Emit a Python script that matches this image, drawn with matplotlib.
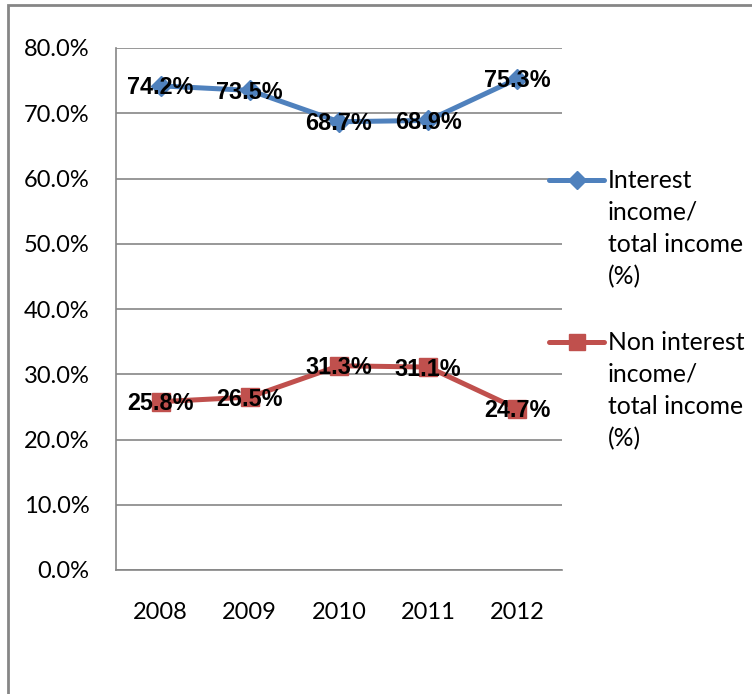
import matplotlib
matplotlib.use('Agg')
from matplotlib import pyplot as plt
from matplotlib.lines import Line2D
from matplotlib.patches import Rectangle
from matplotlib.ticker import FuncFormatter

years = ['2008', '2009', '2010', '2011', '2012']
interest_share = [74.2, 73.5, 68.7, 68.9, 75.3]
non_interest_share = [25.8, 26.5, 31.3, 31.1, 24.7]
series_names = [
    ['Interest', 'income/', 'total income', '(%)'],
    ['Non interest', 'income/', 'total income', '(%)'],
]

BLUE = '#4F81BD'
RED = '#C0504D'
GRID = '#868686'
FONT = 'Lato'
W, H = 752, 694


def px(x, y):
    '''
    Convert pixel position (from top-left) to figure fraction
    '''
    return x / W, 1 - y / H


def build_graph():
    '''
    Draw the two income share lines with value labels and a side legend
    '''
    plt.rcParams['font.family'] = [FONT, 'DejaVu Sans']
    fig = plt.figure(figsize=(W / 100, H / 100), dpi=100)
    left, top = px(116, 48)
    right, bottom = px(562, 570)
    ax = fig.add_axes([left, bottom, right - left, top - bottom])

    xs = [i + 0.5 for i in range(len(years))]
    ax.plot(xs, interest_share, color=BLUE, lw=3.6, marker='D', ms=10,
            solid_joinstyle='round', zorder=3)
    ax.plot(xs, non_interest_share, color=RED, lw=3.6, marker='s', ms=13,
            solid_joinstyle='round', zorder=3)

    for series in (interest_share, non_interest_share):
        for x, v in zip(xs, series):
            ax.annotate(f'{v:.1f}%', (x, v), xytext=(0, -1.5),
                        textcoords='offset points', ha='center', va='center',
                        fontsize=16.8, fontweight='bold', color='black',
                        fontfamily=['Liberation Sans', 'DejaVu Sans'], zorder=5)

    ax.set_xlim(0, len(years))
    ax.set_ylim(0, 80)
    ax.set_xticks(xs)
    ax.set_xticklabels(years)
    ax.set_yticks(range(0, 81, 10))
    ax.yaxis.set_major_formatter(FuncFormatter(lambda v, _: f'{v:.1f}%'))
    ax.tick_params(axis='both', length=0, labelsize=17, colors='black')
    ax.tick_params(axis='y', pad=19)
    ax.tick_params(axis='x', pad=23)
    ax.grid(axis='y', color=GRID, lw=1.2)
    ax.set_axisbelow(True)
    for side in ('top', 'right'):
        ax.spines[side].set_visible(False)
    for side in ('left', 'bottom'):
        ax.spines[side].set_color(GRID)
        ax.spines[side].set_linewidth(1.2)

    # legend drawn by hand so the handle sits on the first text line
    for (color, marker, ms), y0, lines in zip(
            [(BLUE, 'D', 9), (RED, 's', 12)], [180, 342], series_names):
        x0, yy = px(549, y0)
        x1, _ = px(604, y0)
        fig.add_artist(Line2D([x0, x1], [yy, yy], color=color, lw=3.6,
                              solid_capstyle='round'))
        mx, _ = px(577, y0)
        fig.add_artist(Line2D([mx], [yy], color=color, marker=marker, ms=ms))
        for k, line in enumerate(lines):
            tx, ty = px(608, y0 + k * 32.3)
            fig.text(tx, ty, line, fontsize=17.8, ha='left', va='center')

    bx, by = px(8, 5)
    fig.add_artist(Rectangle((bx, -0.05), 1.1, by + 0.05, fill=False,
                             ec=GRID, lw=2, transform=fig.transFigure))

    fig.savefig('out.png', dpi=100)


if __name__ == '__main__':
    build_graph()
